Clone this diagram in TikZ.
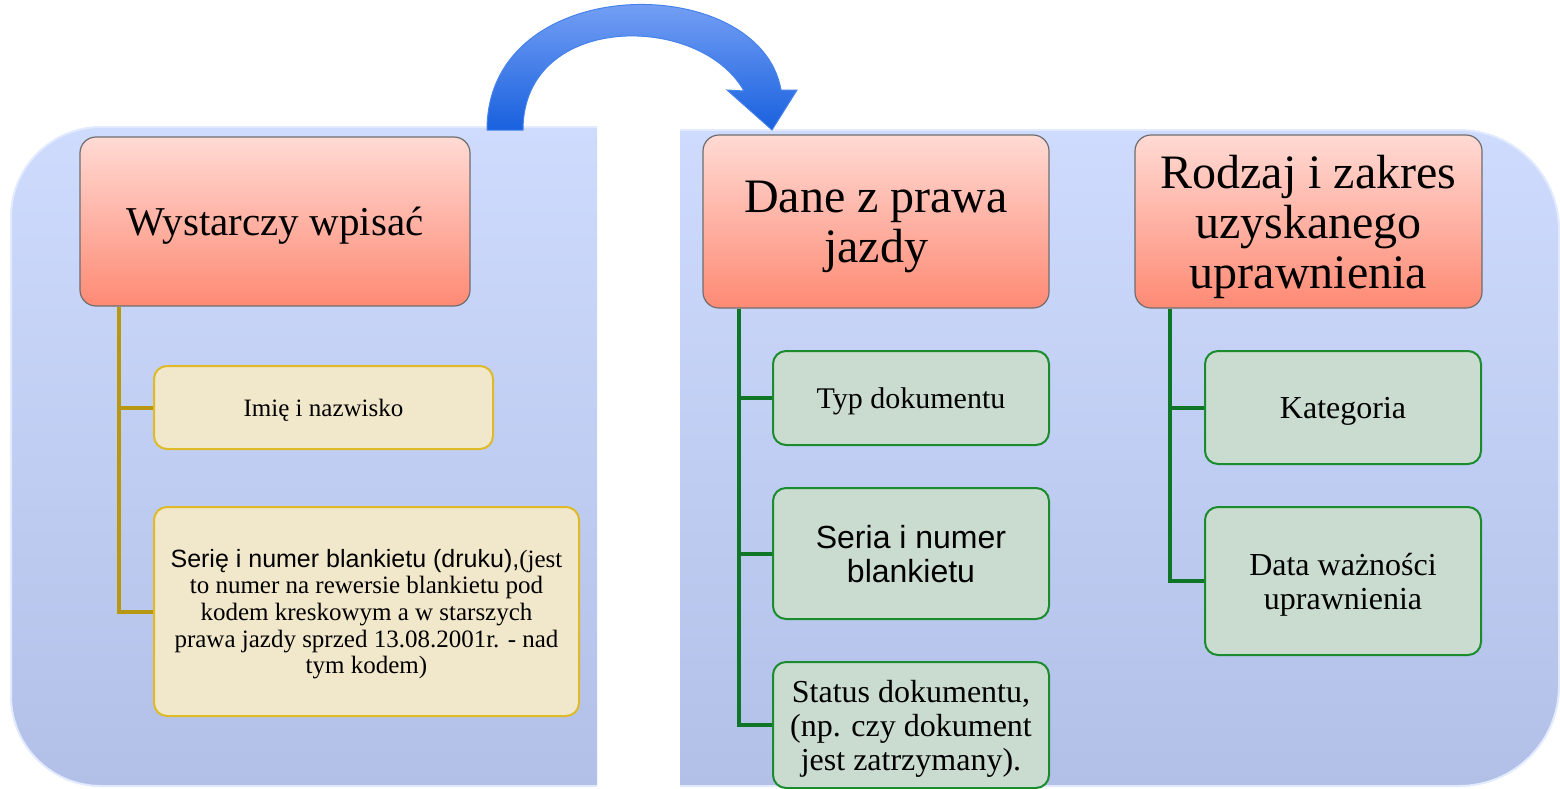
\documentclass[tikz,border=0pt]{standalone}
\usepackage{fontspec}
\setmainfont{Liberation Serif}
\setsansfont{Liberation Sans}
\definecolor{panelTop}{RGB}{206,219,253}
\definecolor{panelBot}{RGB}{178,192,232}
\definecolor{panelEdge}{RGB}{226,234,255}
\definecolor{headTop}{RGB}{255,218,212}
\definecolor{headBot}{RGB}{254,138,116}
\definecolor{headEdge}{RGB}{110,110,110}
\definecolor{sandFill}{RGB}{241,231,202}
\definecolor{sandEdge}{RGB}{222,186,40}
\definecolor{goldLine}{RGB}{184,152,16}
\definecolor{mintFill}{RGB}{202,219,208}
\definecolor{mintEdge}{RGB}{26,140,46}
\definecolor{greenLine}{RGB}{14,118,38}
\definecolor{arrowTop}{RGB}{140,176,250}
\definecolor{arrowBot}{RGB}{24,96,222}
\definecolor{arrowEdge}{RGB}{70,130,235}
\tikzset{
  header/.style={draw=headEdge, line width=1.2, rounded corners=16,
    top color=headTop, bottom color=headBot, align=center, inner sep=0,
    text depth=0pt, font=\fontsize{48}{50}\selectfont},
  sandbox/.style={draw=sandEdge, line width=2, rounded corners=13,
    fill=sandFill, align=center, inner sep=0, text depth=0pt,
    font=\fontsize{25}{26.7}\selectfont},
  mintbox/.style={draw=mintEdge, line width=2, rounded corners=13,
    fill=mintFill, align=center, inner sep=0, text depth=0pt,
    font=\fontsize{32}{34}\selectfont},
  goldlink/.style={goldLine, line width=4},
  greenlink/.style={greenLine, line width=4}
}
\begin{document}
\begin{tikzpicture}[x=1pt,y=-1pt]
        \useasboundingbox (0,0) rectangle (1560,788);
        % tla
        \begin{scope}
          \clip (0,0) rectangle (597,788);
          \shade[rounded corners=90, top color=panelTop, bottom color=panelBot,
            draw=panelEdge, line width=2] (11,127) rectangle (720,786);
        \end{scope}
        \begin{scope}
          \clip (680,0) rectangle (1560,788);
          \shade[rounded corners=100, top color=panelTop, bottom color=panelBot,
            draw=panelEdge, line width=2] (560,130) rectangle (1559,786);
        \end{scope}
        % strzalka
        \shade[top color=arrowTop, bottom color=arrowBot, draw=arrowEdge, line width=1]
          (487,130) .. controls (487,-30) and (760,-30) .. (781,90)
          -- (797,90) -- (772,130) -- (727,90) -- (744,91)
          .. controls (700,12) and (523,12) .. (523,130) -- cycle;
        % naglowki
        \node[header, minimum width=390, minimum height=169,
          font=\fontsize{41}{44}\selectfont] (wys) at (275,221.5) {Wystarczy wpisać};
        \node[header, minimum width=346, minimum height=173] (dane) at (876,221.5)
          {Dane z prawa\\jazdy};
        \node[header, minimum width=347, minimum height=173] (rodzaj) at (1308.5,221.5)
          {Rodzaj i zakres\\uzyskanego\\uprawnienia};
        % lewa kolumna
        \node[sandbox, minimum width=339, minimum height=83] (imie) at (323.5,407.5)
          {Imię i nazwisko};
        \node[sandbox, minimum width=425, minimum height=209] (serie) at (366.5,611.5)
          {{\sffamily Serię i numer blankietu (druku),}(jest\\
           to numer na rewersie blankietu pod\\
           kodem kreskowym a w starszych\\
           prawa jazdy sprzed 13.08.2001r. - nad\\
           tym kodem)};
        \draw[goldlink] ([xshift=40]wys.south west) |- (imie.west);
        \draw[goldlink] ([xshift=40]wys.south west) |- (serie.west);
        % prawo jazdy
        \node[mintbox, minimum width=276, minimum height=94,
          font=\fontsize{30}{32}\selectfont] (typ) at (911,398) {Typ dokumentu};
        \node[mintbox, minimum width=276, minimum height=131,
          font=\sffamily\fontsize{32}{34}\selectfont] (seria) at (911,553.5)
          {Seria i numer\\blankietu};
        \node[mintbox, minimum width=276, minimum height=126] (status) at (911,725)
          {Status dokumentu,\\(np. czy dokument\\jest zatrzymany).};
        \draw[greenlink] ([xshift=37]dane.south west) |- (typ.west);
        \draw[greenlink] ([xshift=37]dane.south west) |- (seria.west);
        \draw[greenlink] ([xshift=37]dane.south west) |- (status.west);
        % uprawnienia
        \node[mintbox, minimum width=276, minimum height=113] (kat) at (1343,407.5)
          {Kategoria};
        \node[mintbox, minimum width=276, minimum height=148] (data) at (1343,581)
          {Data ważności\\uprawnienia};
        \draw[greenlink] ([xshift=36]rodzaj.south west) |- (kat.west);
        \draw[greenlink] ([xshift=36]rodzaj.south west) |- (data.west);
\end{tikzpicture}
\end{document}
